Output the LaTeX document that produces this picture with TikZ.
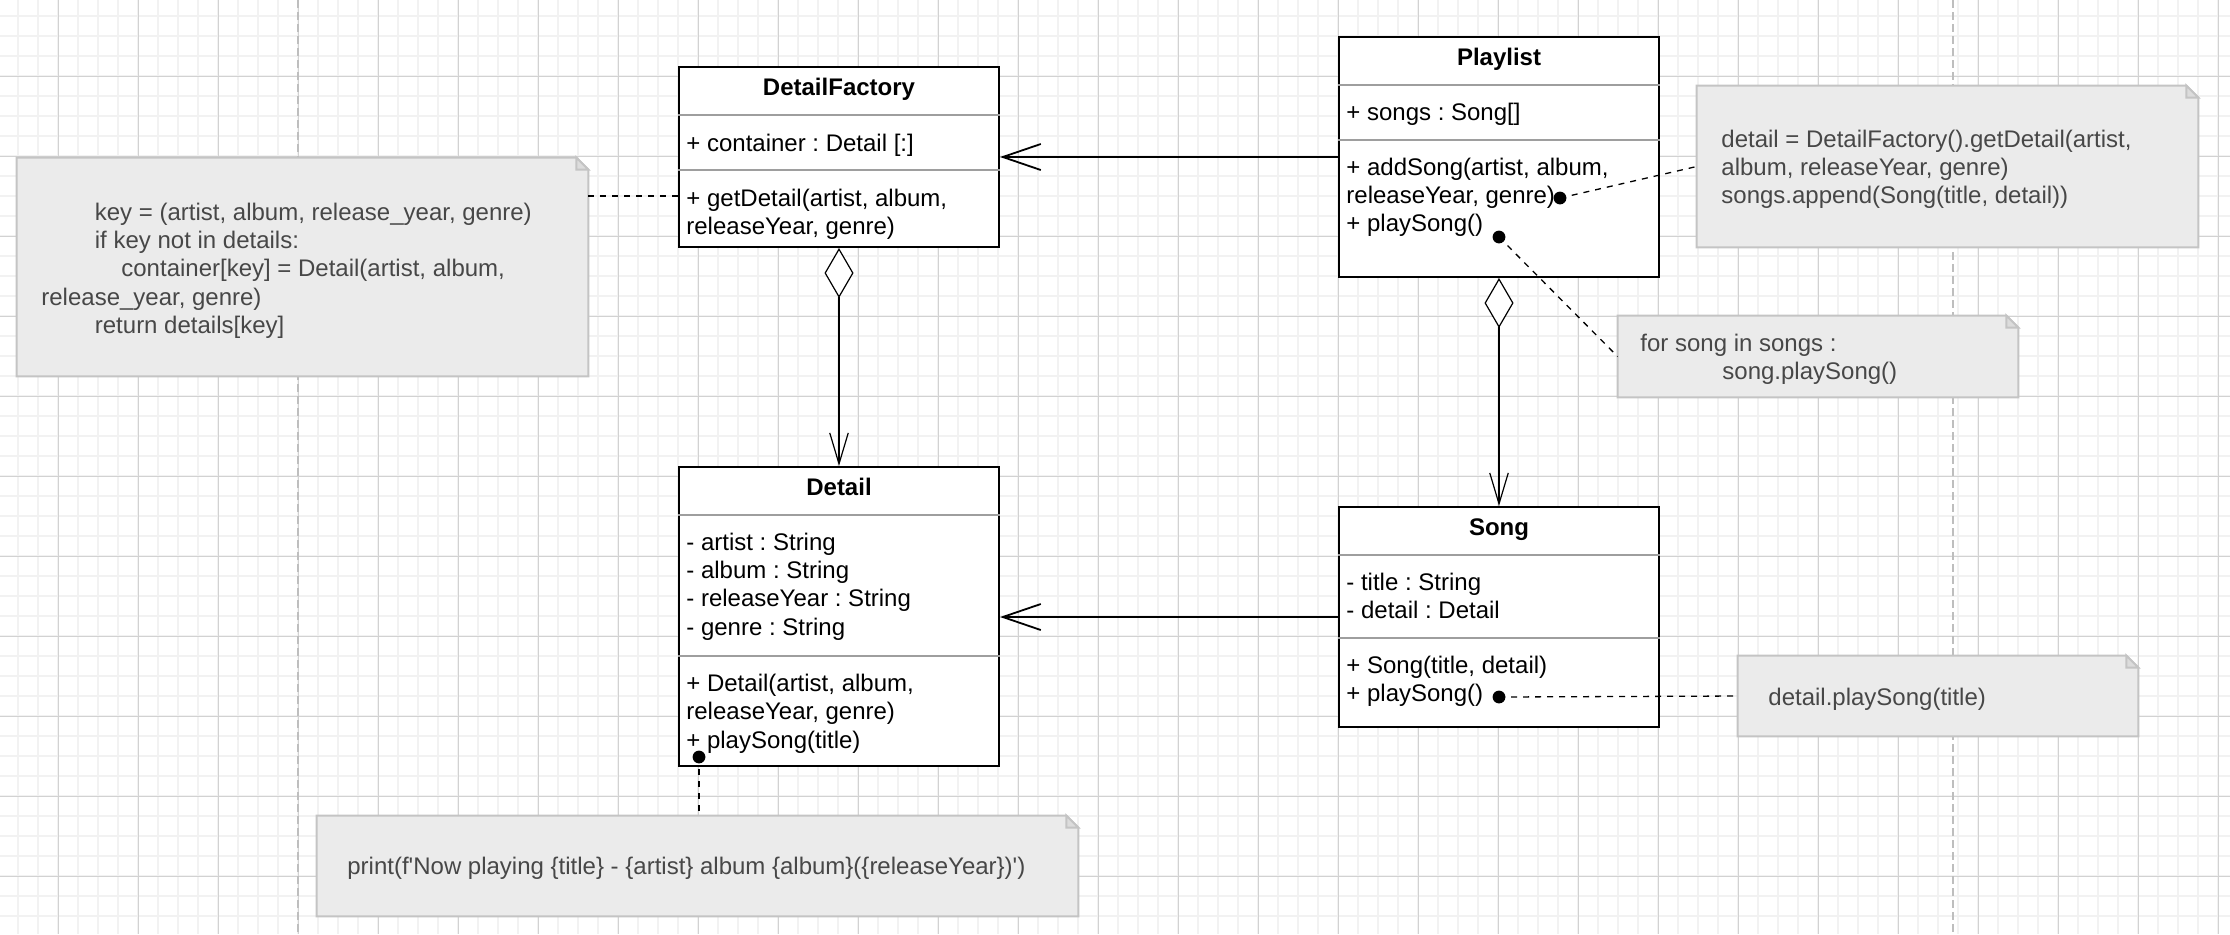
\documentclass[tikz,border=0pt]{standalone}
\usepackage{fontspec}
\newfontfamily\umlfont{Liberation Sans}
\usetikzlibrary{arrows.meta}
\frenchspacing
\definecolor{gridminor}{HTML}{F2F2F2}
\definecolor{gridmajor}{HTML}{D2D2D2}
\definecolor{pagebreak}{HTML}{BEBEBE}
\definecolor{notefill}{HTML}{EBEBEB}
\definecolor{noteline}{HTML}{C4C4C4}
\definecolor{notefold}{HTML}{DCDCDC}
\definecolor{notetext}{HTML}{474747}
\definecolor{divider}{HTML}{9E9E9E}
\newcommand\umllines[1]{\begin{tabular}[t]{@{}l@{}}#1\end{tabular}}
\newcommand\notedraw[1]{%
  \filldraw[noteframe] (#1.north west) -- ([xshift=-6pt]#1.north east) -- ([yshift=-6pt]#1.north east) -- (#1.south east) -- (#1.south west) -- cycle;
  \filldraw[noteframe, fill=notefold] ([xshift=-6pt]#1.north east) -- ([xshift=-6pt,yshift=-6pt]#1.north east) -- ([yshift=-6pt]#1.north east) -- cycle;}
\begin{document}
\frenchspacing
\begin{tikzpicture}[x=0.5pt,y=-0.5pt,
  cls/.style={rectangle, draw=black, line width=1pt, fill=white, minimum width=160pt, inner sep=0pt},
  title/.style={anchor=base, inner sep=0pt, font=\umlfont\bfseries\fontsize{12}{14.2}\selectfont},
  member/.style={anchor=base west, inner sep=0pt, font=\umlfont\fontsize{12}{14.2}\selectfont\frenchspacing},
  notetxt/.style={member, text=notetext},
  notebox/.style={rectangle, inner sep=0pt, draw=none},
  noteframe/.style={draw=noteline, fill=notefill, line width=1pt, line join=miter},
  dividerline/.style={draw=divider, line width=0.7pt},
  assoc/.style={line width=0.9pt, -{Straight Barb[length=19pt,width=13pt]}},
  aggr/.style={line width=0.6pt, {Diamond[length=25pt,width=14.5pt,fill=white]}-{Straight Barb[length=15.5pt,width=9.25pt]}},
  notelink/.style={line width=0.65pt, dash pattern=on 3pt off 3pt},
  minorline/.style={draw=gridminor, line width=0.9pt},
  majorline/.style={draw=gridmajor, line width=0.5pt},
  breakline/.style={draw=pagebreak, line width=0.6pt, dash pattern=on 4pt off 2pt}
]
\useasboundingbox (0,0) rectangle (2230,934);
\fill[white] (0,0) rectangle (2230,934);
% background grid
\foreach \gx in {18,38,...,2218} \draw[minorline] (\gx,0) -- (\gx,934);
\foreach \gy in {16,36,...,916} \draw[minorline] (0,\gy) -- (2230,\gy);
\foreach \gx in {58,138,...,2218} \draw[majorline] (\gx,0) -- (\gx,934);
\foreach \gy in {76,156,...,876} \draw[majorline] (0,\gy) -- (2230,\gy);
\draw[breakline] (298,0) -- (298,934);
\draw[breakline] (1953,0) -- (1953,934);

% notes
\node[notebox, minimum width=285.5pt, minimum height=109pt] (n1) at (302.5,267) {};
\node[notebox, minimum width=250.5pt, minimum height=80.5pt] (n2) at (1947.5,166.5) {};
\node[notebox, minimum width=200pt, minimum height=40.5pt] (n3) at (1818,356.5) {};
\node[notebox, minimum width=200pt, minimum height=40pt] (n4) at (1938,696) {};
\node[notebox, minimum width=380.5pt, minimum height=50pt] (n5) at (697.5,866) {};
\notedraw{n1}
\notedraw{n2}
\notedraw{n3}
\notedraw{n4}
\notedraw{n5}
\node[notetxt] (t1) at (41,220) {\umllines{\hspace*{26.75pt}key = (artist, album, release\_year, genre)\\
\hspace*{26.75pt}if key not in details:\\
\hspace*{40pt}container[key] = Detail(artist, album,\\
release\_year, genre)\\
\hspace*{26.75pt}return details[key]}};
\node[notetxt] (t2) at (1721,147) {\umllines{detail = DetailFactory().getDetail(artist,\\
album, releaseYear, genre)\\
songs.append(Song(title, detail))}};
\node[notetxt] (t3) at (1640,351) {\umllines{for song in songs :\\
\hspace*{41pt}song.playSong()}};
\node[notetxt] (t4) at (1768,705) {detail.playSong(title)};
\node[notetxt] (t5) at (347,874) {print(f'Now playing \{title\} - \{artist\} album \{album\}(\{releaseYear\})')};

% classes
\node[cls, minimum height=90pt] (factory) at (839,157) {};
\node[cls, minimum height=120pt] (playlist) at (1499,157) {};
\node[cls, minimum height=149.5pt] (detail) at (839,616.5) {};
\node[cls, minimum height=110pt] (song) at (1499,617) {};

\draw[dividerline] ([yshift=-24.5pt]factory.north west) -- ([yshift=-24.5pt]factory.north east);
\draw[dividerline] ([yshift=-52pt]factory.north west) -- ([yshift=-52pt]factory.north east);
\draw[dividerline] ([yshift=-24.5pt]playlist.north west) -- ([yshift=-24.5pt]playlist.north east);
\draw[dividerline] ([yshift=-52pt]playlist.north west) -- ([yshift=-52pt]playlist.north east);
\draw[dividerline] ([yshift=-24.5pt]detail.north west) -- ([yshift=-24.5pt]detail.north east);
\draw[dividerline] ([yshift=-95pt]detail.north west) -- ([yshift=-95pt]detail.north east);
\draw[dividerline] ([yshift=-24.5pt]song.north west) -- ([yshift=-24.5pt]song.north east);
\draw[dividerline] ([yshift=-66pt]song.north west) -- ([yshift=-66pt]song.north east);

\node[title] (factoryname) at (839,95.5) {DetailFactory};
\node[member] (factoryattr) at (686,151) {+ container : Detail [:]};
\node[member] (factoryops) at (686,206.5) {\umllines{+ getDetail(artist, album,\\releaseYear, genre)}};

\node[title] (playlistname) at (1499,65.5) {Playlist};
\node[member] (playlistattr) at (1346,120) {+ songs : Song[]};
\node[member] (playlistops) at (1346,175) {\umllines{+ addSong(artist, album,\\releaseYear, genre)\\+ playSong()}};

\node[title] (detailname) at (839,495.5) {Detail};
\node[member] (detailattr) at (686,550) {\umllines{- artist : String\\- album : String\\- releaseYear : String\\- genre : String}};
\node[member] (detailops) at (686,691.5) {\umllines{+ Detail(artist, album,\\releaseYear, genre)\\+ playSong(title)}};

\node[title] (songname) at (1499,535.5) {Song};
\node[member] (songattr) at (1346,590) {\umllines{- title : String\\- detail : Detail}};
\node[member] (songops) at (1346,673) {\umllines{+ Song(title, detail)\\+ playSong()}};

% relations
\draw[assoc] (playlist.west) -- (factory.east);
\draw[assoc] (song.west) -- (song.west -| detail.east);
\draw[aggr] (factory.south) -- (detail.north);
\draw[aggr] (playlist.south) -- (song.north);

% note links
\coordinate (d1) at (1560,198);
\coordinate (d2) at (1499,237);
\coordinate (d3) at (1499,697);
\coordinate (d4) at (699,757);
\coordinate (c1) at (588,196);
\draw[notelink] (c1) -- (c1 -| factory.west);
\draw[notelink] (d1) -- (n2.west);
\draw[notelink] (d2) -- (n3.west);
\draw[notelink] (d3) -- (n4.west);
\draw[notelink] (d4) -- (d4 |- n5.north);
\fill (d1) circle[radius=3.2pt];
\fill (d2) circle[radius=3.2pt];
\fill (d3) circle[radius=3.2pt];
\fill (d4) circle[radius=3.2pt];
\end{tikzpicture}
\end{document}
